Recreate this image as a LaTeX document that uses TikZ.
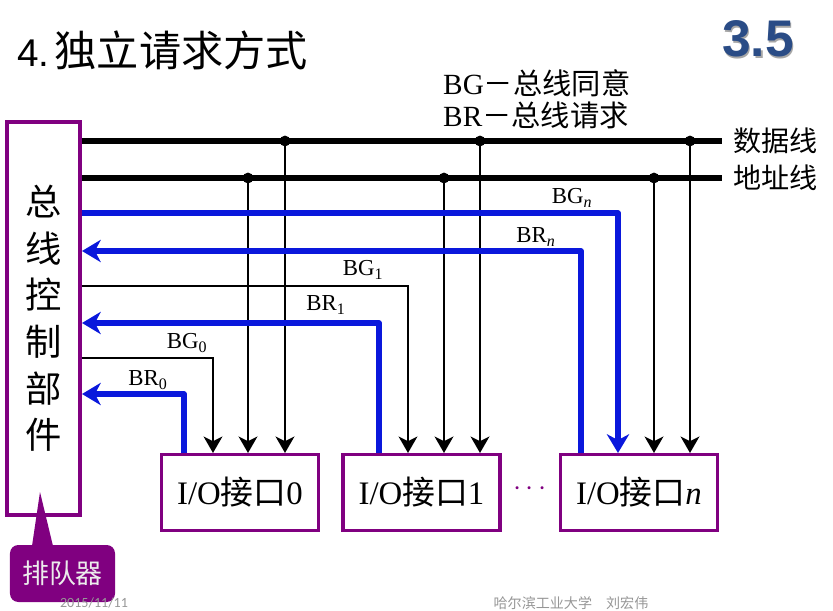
\documentclass[tikz,border=0pt]{standalone}
\usepackage{fontspec}
\setmainfont{Liberation Serif}
\newfontfamily\cjk{Noto Sans CJK SC}
\newfontfamily\arial{Liberation Sans}
\newfontfamily\fecha{Carlito}
\usetikzlibrary{arrows.meta}
\definecolor{morado}{RGB}{128,0,128}
\definecolor{azulbus}{RGB}{10,24,220}
\definecolor{azultit}{RGB}{42,76,134}
\definecolor{gris}{RGB}{150,150,150}

\begin{document}
\begin{tikzpicture}[x=0.03cm, y=-0.03cm,
            bloque/.style={draw=morado, line width=2.6pt, fill=white, minimum width=4.71cm, minimum height=2.28cm, inner sep=0pt, font=\fontsize{28}{30}\selectfont},
            bus/.style={line width=5.1pt, draw=black},
            toma/.style={line width=2.2pt, draw=black, -{Stealth[length=14pt, width=16pt, inset=4pt]}},
            senal/.style={line width=1.8pt, draw=black, -{Stealth[length=14pt, width=16pt, inset=4pt]}},
            azul/.style={line width=4.3pt, draw=azulbus, line join=round, -{Stealth[length=16pt, width=19pt, inset=5pt]}},
            etiqueta/.style={inner sep=0pt, font=\fontsize{19.5}{20}\selectfont},
            rotulo/.style={anchor=west, inner xsep=0.33cm, inner ysep=0pt, font=\cjk\fontsize{24}{26}\selectfont}
        ]
        \useasboundingbox (0,0) rectangle (833,610);

        % --- TITULO ---
        \node[anchor=west, inner sep=0pt] (titulo) at (17,50) {{\arial\fontsize{33}{36}\selectfont 4.}\hspace{0.45em}{\cjk\fontsize{36}{40}\selectfont 独立请求方式}};
        \node[text=black!35, font=\arial\bfseries\fontsize{44}{48}\selectfont] (sombra) at (759.5,40.5) {3.5};
        \node[text=azultit, font=\arial\bfseries\fontsize{44}{48}\selectfont] (num) at (758,39) {3.5};
        \node[anchor=west, align=left, inner sep=0pt, font=\fontsize{25}{27.5}\selectfont] (leyenda) at (443,99) {BG{\cjk －总线同意}\\BR{\cjk －总线请求}};

        % --- CONTROLADOR ---
        \node[draw=morado, line width=3.4pt, fill=white, minimum width=2.19cm, minimum height=11.79cm, align=center, font=\cjk\fontsize{31}{39.8}\selectfont] (control) at (43.5,318.5) {总\\线\\控\\制\\部\\件};
        \fill[morado] (32,546) -- (40,492) -- (53,546) -- cycle;
        \node[fill=morado, rounded corners=0.25cm, minimum width=3.15cm, minimum height=1.71cm, text=gray!15, font=\cjk\fontsize{23}{24}\selectfont] (cola) at (62.5,573.5) {排队器};

        % --- INTERFACES ---
        \node[bloque] (io0) at (240,492.5) {I/O{\cjk 接口}0};
        \node[bloque] (io1) at (421.5,492.5) {I/O{\cjk 接口}1};
        \node[bloque] (ion) at (639,492.5) {I/O{\cjk 接口}\textit{n}};
        \node[text=morado, font=\fontsize{27}{27}\selectfont] (puntos) at (530,489) {$\cdots$};

        % --- BUSES ---
        \node[rotulo] (datos) at (722,141) {数据线};
        \node[rotulo] (direc) at (722,178) {地址线};
        \draw[bus] (control.east |- datos) -- (datos.west);
        \draw[bus] (control.east |- direc) -- (direc.west);

        \foreach \x/\b in {285/io0, 480/io1, 690/ion}{
            \coordinate (d-\b) at (\x,141);
            \fill (d-\b) circle[radius=4.6pt];
            \draw[toma] (d-\b) -- (\b.north -| d-\b);
        }
        \foreach \x/\b in {248/io0, 444/io1, 654/ion}{
            \coordinate (a-\b) at (\x,178);
            \fill (a-\b) circle[radius=4.6pt];
            \draw[toma] (a-\b) -- (\b.north -| a-\b);
        }

        % --- SENALES BG / BR ---
        \coordinate (bg1) at (408,286);
        \coordinate (bg0) at (213,358);
        \draw[senal] (control.east |- bg1) -- (bg1) -- (io1.north -| bg1);
        \draw[senal] (control.east |- bg0) -- (bg0) -- (io0.north -| bg0);

        \coordinate (bgn) at (618,213);
        \coordinate (brn) at (581,251);
        \coordinate (br1) at (379,323);
        \coordinate (br0) at (184,394);
        \draw[azul] (control.east |- bgn) -- (bgn) -- (ion.north -| bgn);
        \draw[azul] (ion.north -| brn) -- (brn) -- (control.east |- brn);
        \draw[azul] (io1.north -| br1) -- (br1) -- (control.east |- br1);
        \draw[azul] (io0.north -| br0) -- (br0) -- (control.east |- br0);

        \node[etiqueta] (lbgn) at (572,198) {BG\textsubscript{\textit{n}}};
        \node[etiqueta] (lbrn) at (536,237) {BR\textsubscript{\textit{n}}};
        \node[etiqueta] (lbg1) at (363,270) {BG\textsubscript{1}};
        \node[etiqueta] (lbr1) at (326,305) {BR\textsubscript{1}};
        \node[etiqueta] (lbg0) at (187,343) {BG\textsubscript{0}};
        \node[etiqueta] (lbr0) at (148,380) {BR\textsubscript{0}};

        % --- PIE ---
        \node[text=gris, font=\fecha\fontsize{12}{12}\selectfont] (fecha) at (94,603) {2015/11/11};
        \node[text=gris, font=\cjk\fontsize{12}{12}\selectfont] (autor) at (571,603) {哈尔滨工业大学\quad 刘宏伟};
    \end{tikzpicture}
\end{document}
